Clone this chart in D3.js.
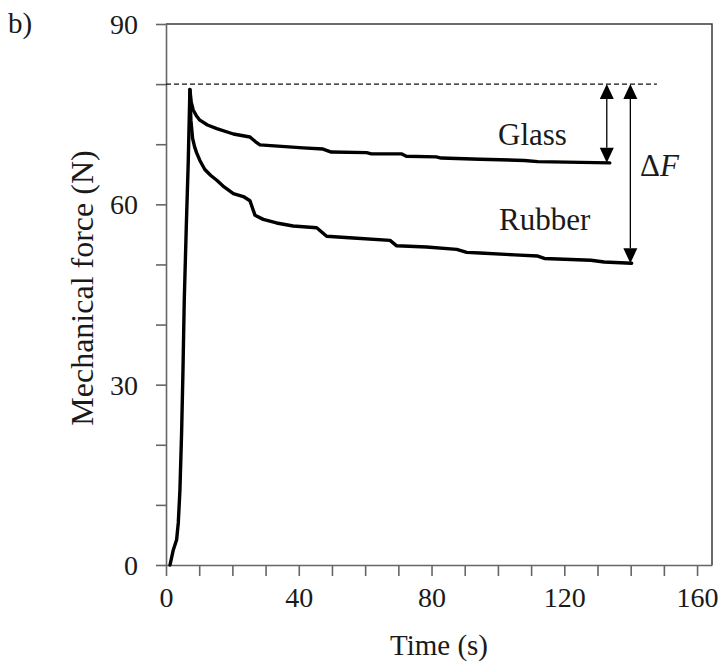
<!DOCTYPE html>
<html><head><meta charset="utf-8">
<script src="https://cdn.jsdelivr.net/npm/d3@7"></script>
<style>body{margin:0;background:#fff}svg{display:block}</style>
</head><body>
<svg id="c" width="720" height="670"></svg>
<script>
// ---- data ----
const riseT = [1.2, 2.2, 3.2, 3.7, 4.2, 4.7, 5.1, 5.5, 6.1, 6.7, 7.2];
const riseF = [0, 2.5, 4.2, 7, 12.5, 22, 32, 44, 56, 67, 79.1];
const glassT = [7.6, 8.2, 9.2, 10.2, 12.5, 15.3, 20.3, 25.3, 27, 28.3, 41.3, 47.3, 49.8, 60.4, 61.9, 70.9, 72.4, 81.4, 82.9, 94.6, 108, 112, 133.7];
const glassF = [77.0, 75.7, 74.7, 74.0, 73.2, 72.6, 71.7, 71.2, 70.4, 69.9, 69.4, 69.2, 68.7, 68.6, 68.4, 68.4, 68.0, 67.9, 67.7, 67.5, 67.3, 67.1, 66.9];
const rubberT = [7.5, 8.0, 8.6, 9.2, 10.2, 11.7, 13.5, 15.3, 17.5, 20.3, 23.3, 25.3, 26.8, 29.3, 33.3, 38.3, 45.4, 46.9, 48.4, 56.4, 67.5, 69.5, 78.5, 87.6, 90.6, 94.6, 105, 112, 114, 128, 132, 140.3];
const rubberF = [74.0, 71.0, 69.6, 68.6, 67.3, 65.8, 64.8, 64.0, 62.9, 61.8, 61.3, 60.6, 58.2, 57.5, 56.9, 56.4, 56.1, 55.4, 54.7, 54.4, 54.0, 53.1, 52.9, 52.5, 52.0, 51.9, 51.6, 51.4, 51.0, 50.7, 50.4, 50.2];
const refForce = 80;          // dashed reference level
const refEndT = 147.9;
const arrowT = [132.8, 139.9];
const arrowTo = [66.9, 50.2];
const xTickLabels = [0, 40, 80, 120, 160];
const yTickLabels = [0, 30, 60, 90];
const xTicks = d3.range(0, 161, 10);
const yTicks = d3.range(0, 91, 10);

// ---- layout ----
const svg = d3.select("#c");
const font = "'Liberation Serif','Times New Roman',serif";
const x = d3.scaleLinear().domain([0, 164.5]).range([166, 712]);
const y = d3.scaleLinear().domain([0, 90]).range([565, 24]);
const axisCol = "#666";
const txtCol = "#1a1a1a";

// frame top & right
svg.append("path").attr("d", `M${x(0)},${y(90)}H${x(164.5)}V${y(0)}`)
  .attr("fill", "none").attr("stroke", "#3a3a3a").attr("stroke-width", 1.5);

// axes
const gx = svg.append("g").attr("transform", `translate(0,${y(0)})`)
  .call(d3.axisBottom(x).tickValues(xTicks).tickSize(11).tickSizeOuter(0)
    .tickFormat(d => xTickLabels.includes(d) ? d : ""));
const gy = svg.append("g").attr("transform", `translate(${x(0)},0)`)
  .call(d3.axisLeft(y).tickValues(yTicks).tickSize(10).tickSizeOuter(0)
    .tickFormat(d => yTickLabels.includes(d) ? d : ""));
[gx, gy].forEach(g => {
  g.select(".domain").attr("stroke", axisCol).attr("stroke-width", 1.6);
  g.selectAll(".tick line").attr("stroke", axisCol).attr("stroke-width", 1.6);
  g.selectAll(".tick text").attr("fill", txtCol).attr("font-family", font).attr("font-size", 28);
});
gx.selectAll(".tick text").attr("dy", "0.71em").attr("y", 22);
gy.selectAll(".tick text").attr("x", -28).attr("dy", "0.34em");

// dashed reference line
svg.append("line").attr("x1", x(0)).attr("x2", x(refEndT))
  .attr("y1", y(refForce)).attr("y2", y(refForce))
  .attr("stroke", "#111").attr("stroke-width", 1.2).attr("stroke-dasharray", "5,3");

// curves
const line = d3.line().x(d => x(d[0])).y(d => y(d[1]));
const rise = riseT.map((t, i) => [t, riseF[i]]);
const glass = rise.concat(glassT.map((t, i) => [t, glassF[i]]));
const rubber = [[riseT[riseT.length-1], riseF[riseF.length-1]]].concat(rubberT.map((t, i) => [t, rubberF[i]]));
[glass, rubber].forEach(dat => {
  svg.append("path").attr("d", line(dat)).attr("fill", "none")
    .attr("stroke", "#000").attr("stroke-width", 3.4)
    .attr("stroke-linejoin", "round").attr("stroke-linecap", "round");
});

// double-headed arrows
const hw = 7, hl = 15;
arrowT.forEach((t, i) => {
  const ax = x(t), y1 = y(refForce), y2 = y(arrowTo[i]);
  svg.append("line").attr("x1", ax).attr("x2", ax).attr("y1", y1 + hl).attr("y2", y2 - hl)
    .attr("stroke", "#000").attr("stroke-width", 1.3);
  svg.append("path").attr("d", `M${ax},${y1}L${ax-hw},${y1+hl}L${ax+hw},${y1+hl}Z`).attr("fill", "#000");
  svg.append("path").attr("d", `M${ax},${y2}L${ax-hw},${y2-hl}L${ax+hw},${y2-hl}Z`).attr("fill", "#000");
});

// labels
const txt = (s, xx, yy, opts = {}) => svg.append("text").attr("x", xx).attr("y", yy)
  .attr("font-family", font).attr("font-size", opts.size || 29).attr("fill", txtCol)
  .attr("text-anchor", opts.anchor || "start").text(s);
txt("Glass", 498, 145, {size: 31});
txt("Rubber", 499, 230, {size: 31});
const df = txt("", 640, 176, {size: 31});
df.append("tspan").text("\u0394");
df.append("tspan").attr("font-style", "italic").text("F");
txt("b)", 8, 33);
txt("Time (s)", 439, 655, {anchor: "middle"});
svg.append("text").attr("transform", `translate(93,288) rotate(-90)`)
  .attr("font-family", font).attr("font-size", 32).attr("fill", txtCol)
  .attr("text-anchor", "middle").text("Mechanical force (N)");
</script>
</body></html>
